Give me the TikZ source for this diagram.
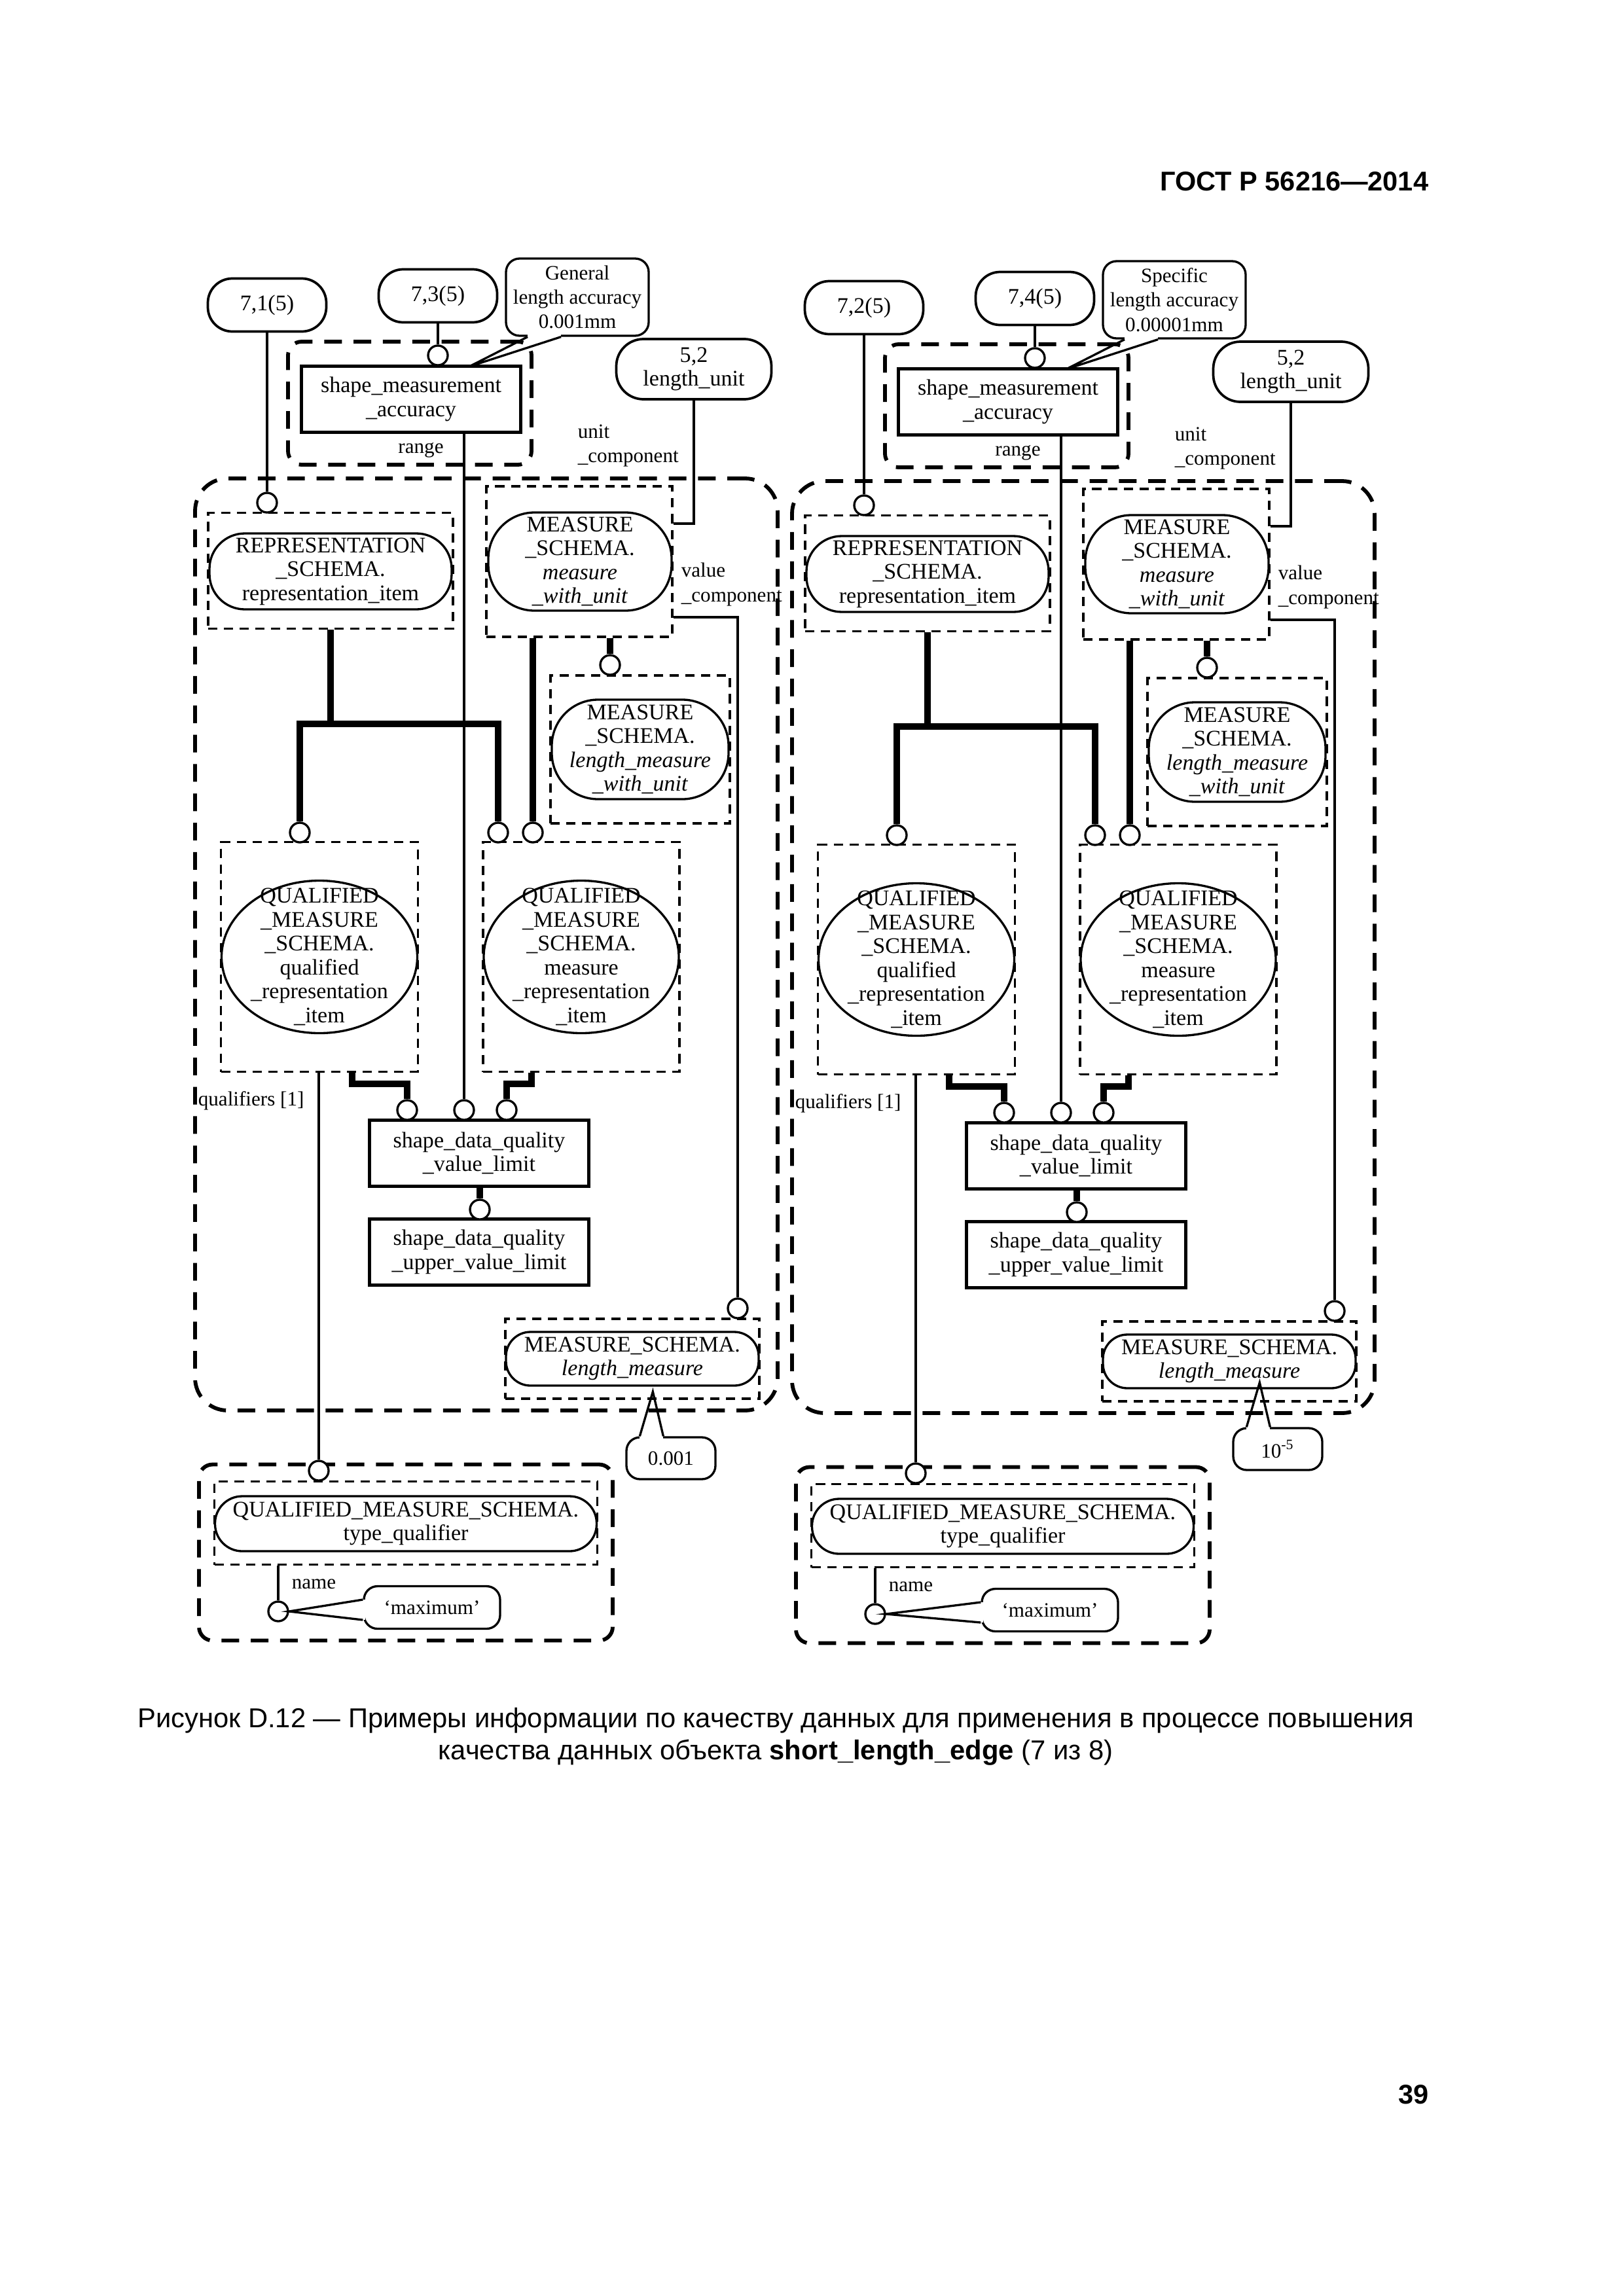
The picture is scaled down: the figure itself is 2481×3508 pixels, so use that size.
\documentclass[tikz,border=0pt]{standalone}
\usepackage{fontspec}
\setmainfont{Liberation Serif}
\newfontfamily\gostsans{Liberation Sans}
\usepackage{tikz}
\usetikzlibrary{shapes,positioning,calc}

\newlength\pxl
\setlength\pxl{0.08467mm}

\tikzset{
  every node/.style={inner sep=0pt, align=center, font=\fontsize{8.2}{8.8}\selectfont},
  lbl/.style={font=\fontsize{7.5}{9}\selectfont, align=left},
  conn/.style={line width=.8pt},
  tree/.style={line width=2.2pt},
  ring/.style={circle, draw, line width=.8pt, fill=white, minimum size=30*\pxl},
  refpill/.style={draw, line width=.9pt, rounded corners=9pt, minimum width=181*\pxl, minimum height=81*\pxl},
  entity/.style={draw, line width=1pt, minimum width=335*\pxl, minimum height=101*\pxl},
  schema/.style={draw, line width=.8pt},
  note/.style={draw, line width=.8pt, rounded corners=5pt, fill=white, font=\fontsize{7.5}{9}\selectfont},
  grp/.style={draw, line width=.8pt, dash pattern=on 3.4pt off 2.4pt},
  biggrp/.style={draw, line width=1.4pt, dash pattern=on 6.5pt off 4.3pt, rounded corners=5pt},
}

% #1 prefix, #2 shift, #3 #4 references, #5 accuracy note, #6 value note, #7 its place, #8 x of 'maximum'
\newcommand{\drawpanel}[8]{%
\begin{scope}[shift={(#2)}]
\node[biggrp, rounded corners=12pt, minimum width=890*\pxl, minimum height=1424*\pxl] (#1main) at (743,1443) {};
\node[biggrp, minimum width=372*\pxl, minimum height=188*\pxl] (#1smagrp) at (626,616) {};
\node[biggrp, minimum width=632*\pxl, minimum height=269*\pxl] (#1tqgrp) at (620,2372) {};

\node[refpill] (#1refA) at (408,466) {#3};
\node[refpill] (#1refB) at (669,452) {#4};
\node[refpill, rounded corners=10pt, minimum width=237*\pxl, minimum height=92*\pxl] (#1unit) at (1060,564) {5,2\\length\_unit};
\node[note, minimum width=218*\pxl, minimum height=118*\pxl] (#1acc) at (882,454) {#5};
\node[entity] (#1sma) at (628,610) {shape\_measurement\\\_accuracy};
\node[lbl] (#1range) at (643,688) {range};
\node[lbl, anchor=west] (#1unitlbl) at (882,681) {unit\\\_component};
\node[lbl, anchor=west] (#1valuelbl) at (1040,893) {value\\\_component};

\node[grp, minimum width=374*\pxl, minimum height=177*\pxl] (#1repbox) at (505,872) {};
\node[schema, rounded corners=13pt, minimum width=370*\pxl, minimum height=116*\pxl] (#1rep) at (505,873) {REPRESENTATION\\\_SCHEMA.\\representation\_item};
\node[grp, minimum width=284*\pxl, minimum height=230*\pxl] (#1mwubox) at (885,858) {};
\node[schema, rounded corners=17pt, minimum width=280*\pxl, minimum height=150*\pxl] (#1mwu) at (886,858) {MEASURE\\\_SCHEMA.\\\textit{measure}\\\textit{\_with\_unit}};
\node[grp, minimum width=274*\pxl, minimum height=226*\pxl] (#1lmwubox) at (978,1145) {};
\node[schema, rounded corners=17pt, minimum width=270*\pxl, minimum height=152*\pxl] (#1lmwu) at (978,1145) {MEASURE\\\_SCHEMA.\\\textit{length\_measure}\\\textit{\_with\_unit}};

\node[grp, minimum width=301*\pxl, minimum height=351*\pxl] (#1qualbox) at (488,1462) {};
\node[ellipse, schema, minimum width=299*\pxl, minimum height=233*\pxl] (#1qual) at (488,1462) {};
\node (#1qualtxt) at (#1qual) {QUALIFIED\\\_MEASURE\\\_SCHEMA.\\qualified\\\_representation\\\_item};
\node[grp, minimum width=300*\pxl, minimum height=351*\pxl] (#1measbox) at (888,1462) {};
\node[ellipse, schema, minimum width=298*\pxl, minimum height=233*\pxl] (#1meas) at (888,1462) {};
\node (#1meastxt) at (#1meas) {QUALIFIED\\\_MEASURE\\\_SCHEMA.\\measure\\\_representation\\\_item};

\node[lbl, anchor=west] (#1qlbl) at (302,1682) {qualifiers [1]};
\node[entity] (#1sdqvl) at (732,1762) {shape\_data\_quality\\\_value\_limit};
\node[entity] (#1sdquvl) at (732,1913) {shape\_data\_quality\\\_upper\_value\_limit};
\node[grp, minimum width=388*\pxl, minimum height=122*\pxl] (#1lmbox) at (966,2076) {};
\node[schema, rounded corners=9pt, minimum width=386*\pxl, minimum height=82*\pxl] (#1lm) at (966,2076) {MEASURE\_SCHEMA.\\\textit{length\_measure}};
\node[note, minimum width=136*\pxl, minimum height=64*\pxl] (#1lmnote) at (#7) {#6};

\node[grp, minimum width=585*\pxl, minimum height=127*\pxl] (#1tqbox) at (620,2327) {};
\node[schema, rounded corners=10pt, minimum width=583*\pxl, minimum height=84*\pxl] (#1tq) at (620,2328) {QUALIFIED\_MEASURE\_SCHEMA.\\type\_qualifier};
\node[lbl, anchor=west] (#1name) at (445,2420) {name};
\node[note, minimum width=208*\pxl, minimum height=65*\pxl] (#1max) at (#8,2456) {‘maximum’};

\node[ring] (#1ringA) at (408,768) {};
\node[ring] (#1ringB) at (669,543) {};
\node[ring] (#1ringV) at (1127,1999) {};
\node[ring] (#1ringL) at (932,1016) {};
\node[ring] (#1ringQ) at (458,1272) {};
\node[ring] (#1ringM) at (761,1272) {};
\node[ring] (#1ringW) at (814,1272) {};
\node[ring] (#1ringQ2) at (622,1696) {};
\node[ring] (#1ringS) at (709,1696) {};
\node[ring] (#1ringM2) at (774,1696) {};
\node[ring] (#1ringU) at (733,1848) {};
\node[ring] (#1ringT) at (487,2247) {};
\node[ring] (#1ringN) at (425,2462) {};

\coordinate (#1ubend) at (1060,800);
\coordinate (#1vbend) at (1127,943);
\coordinate (#1tj) at (505,1106);
\coordinate (#1qb) at (538,1656);
\coordinate (#1mb) at (812,1656);

\draw[conn] (#1refA) -- (#1ringA);
\draw[conn] (#1refB) -- (#1ringB);
\draw[conn] (#1unit) -- (#1ubend) -- (#1ubend -| #1mwubox.east);
\draw[conn] (#1vbend -| #1mwubox.east) -- (#1vbend) -- (#1ringV);
\draw[conn] (#1sma.south -| #1ringS) -- (#1ringS);
\draw[conn] (#1qualbox.south -| #1ringT) -- (#1ringT);
\draw[conn] (#1tqbox.south -| #1ringN) -- (#1ringN);
\draw[tree] (#1repbox) -- (#1tj);
\draw[tree] (#1ringQ) -- (#1ringQ |- #1tj) -- (#1ringM |- #1tj) -- (#1ringM);
\draw[tree] (#1mwubox.south -| #1ringW) -- (#1ringW);
\draw[tree] (#1mwubox.south -| #1ringL) -- (#1ringL);
\draw[tree] (#1qualbox.south -| #1qb) -- (#1qb) -| (#1ringQ2);
\draw[tree] (#1measbox.south -| #1mb) -- (#1mb) -| (#1ringM2);
\draw[tree] (#1sdqvl.south -| #1ringU) -- (#1ringU);

\coordinate (#1accL) at ($(#1acc.south)+(-76,0)$);
\coordinate (#1accR) at ($(#1acc.south)+(-25,0)$);
\draw[white, line width=1.6pt] (#1accL) -- (#1accR);
\draw[conn] (#1accL) -- (717,560) -- (#1accR);
\coordinate (#1lmL) at ($(#1lmnote.north west)+(22,0)$);
\coordinate (#1lmR) at ($(#1lmnote.north west)+(58,0)$);
\draw[white, line width=1.6pt] (#1lmL) -- (#1lmR);
\draw[conn] (#1lmL) -- ($(#1lmnote.north west)+(42,-68)$) -- (#1lmR);
\coordinate (#1mxA) at ($(#1max.west)+(0,-12)$);
\coordinate (#1mxB) at ($(#1max.west)+(0,19)$);
\draw[white, line width=1.6pt] (#1mxA) -- (#1mxB);
\draw[conn] (#1mxA) -- (#1ringN.east) -- (#1mxB);
\end{scope}}

\begin{document}
\begin{tikzpicture}[x=0.08467mm, y=-0.08467mm]
\path[use as bounding box, fill=white] (0,0) rectangle (2481,3508);
\node[anchor=east, font=\gostsans\bfseries\fontsize{10}{12}\selectfont] (head) at (2183,277) {ГОСТ Р 56216—2014};

\drawpanel{L}{0,0}{7,1(5)}{7,3(5)}{General\\length accuracy\\0.001mm}{0.001}{1025,2228}{660}
\drawpanel{R}{912,4}{7,2(5)}{7,4(5)}{Specific\\length accuracy\\0.00001mm}{10\textsuperscript{-5}}{1040,2210}{692}

\node[font=\gostsans\fontsize{10.05}{11.9}\selectfont] (caption) at (1185,2653) {Рисунок D.12 — Примеры информации по качеству данных для применения в процессе повышения\\качества данных объекта \textbf{short\_length\_edge} (7 из 8)};
\node[anchor=east, font=\gostsans\bfseries\fontsize{10}{12}\selectfont] (pageno) at (2183,3200) {39};
\end{tikzpicture}
\end{document}
